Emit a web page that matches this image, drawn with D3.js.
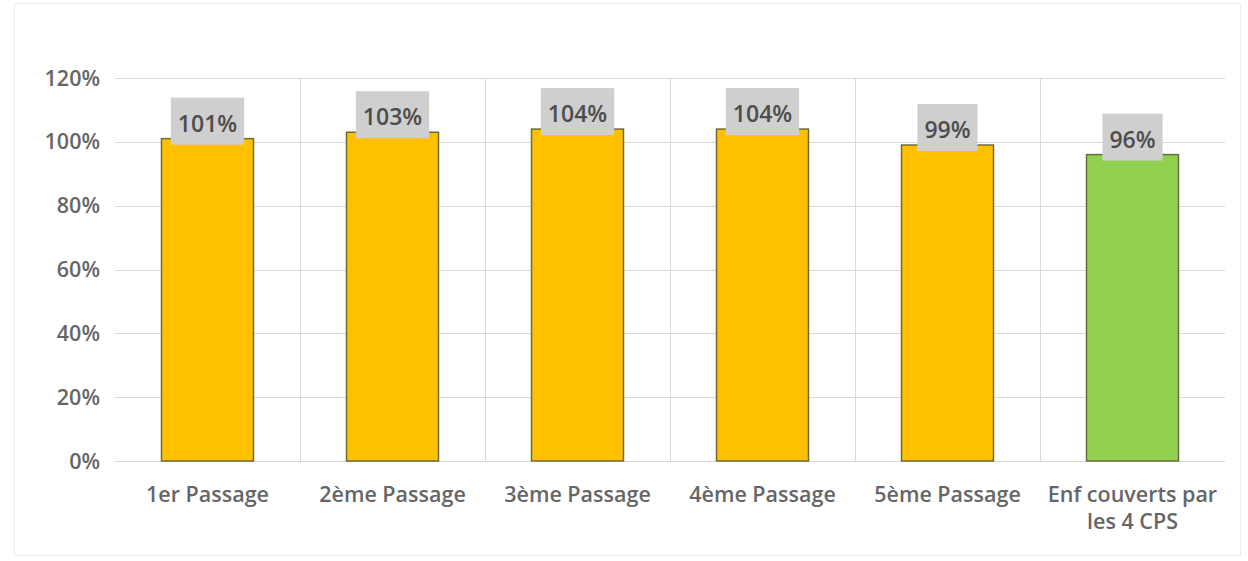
<!DOCTYPE html>
<meta charset="utf-8">
<style>
body { margin: 0; background: #fff; }
.grid line { stroke: #d9d9d9; stroke-width: 1px; }
.axis text { font: 600 21.5px "Open Sans", sans-serif; fill: #666; }
.lbl text { font: 600 23px "Open Sans", sans-serif; fill: #4d4d4d; }
</style>
<svg width="1248" height="561"></svg>
<script src="https://d3js.org/d3.v7.min.js"></script>
<script>
var categories = ["1er Passage", "2ème Passage", "3ème Passage", "4ème Passage", "5ème Passage", "Enf couverts par|les 4 CPS"];
var values = [1.01, 1.03, 1.04, 1.04, 0.99, 0.96];
var barColors = ["#FFC000", "#FFC000", "#FFC000", "#FFC000", "#FFC000", "#92D050"];
var yTicks = [0, 0.2, 0.4, 0.6, 0.8, 1.0, 1.2];

var svg = d3.select("svg");

// chart frame
svg.append("rect").attr("x", 14.5).attr("y", 3.5).attr("width", 1226).attr("height", 552)
    .attr("fill", "none").attr("stroke", "#ececec");

var x = d3.scaleBand().domain(categories).range([115, 1225]).paddingInner(0).paddingOuter(0);
var y = d3.scaleLinear().domain([0, 1.2]).range([461, 78]);
var barW = 92;

// horizontal gridlines
svg.append("g").attr("class", "grid").selectAll("line")
    .data(yTicks).enter().append("line")
    .attr("x1", 115).attr("x2", 1225)
    .attr("y1", function(d) { return Math.round(y(d)) + 0.5; })
    .attr("y2", function(d) { return Math.round(y(d)) + 0.5; });

// vertical gridlines between categories
svg.append("g").attr("class", "grid").selectAll("line")
    .data(categories.slice(1)).enter().append("line")
    .attr("x1", function(d) { return Math.round(x(d)) + 0.5; })
    .attr("x2", function(d) { return Math.round(x(d)) + 0.5; })
    .attr("y1", y(1.2)).attr("y2", y(0));

// y axis labels
svg.append("g").attr("class", "axis").selectAll("text")
    .data(yTicks).enter().append("text")
    .attr("x", 100).attr("y", function(d) { return y(d); })
    .attr("dy", "0.35em").attr("text-anchor", "end")
    .text(function(d) { return d3.format(".0%")(d); });

// bars
svg.append("g").selectAll("rect")
    .data(categories).enter().append("rect")
    .attr("x", function(d) { return x(d) + x.bandwidth() / 2 - barW / 2; })
    .attr("y", function(d, i) { return y(values[i]); })
    .attr("width", barW)
    .attr("height", function(d, i) { return y(0) - y(values[i]); })
    .attr("fill", function(d, i) { return barColors[i]; })
    .attr("stroke", "#6b6b3a").attr("stroke-width", 1.5);

// data labels with grey boxes
var lbl = svg.append("g").attr("class", "lbl").selectAll("g")
    .data(categories).enter().append("g")
    .attr("transform", function(d, i) {
        return "translate(" + (x(d) + x.bandwidth() / 2) + "," + (y(values[i]) - 15) + ")";
    });
lbl.append("text")
    .attr("text-anchor", "middle").attr("dy", "0.35em")
    .text(function(d, i) { return d3.format(".0%")(values[i]); });
lbl.each(function() {
    var g = d3.select(this), bb = g.select("text").node().getBBox();
    g.insert("rect", "text")
        .attr("x", bb.x - 7).attr("y", -26)
        .attr("width", bb.width + 14).attr("height", 47)
        .attr("fill", "#cfcfcf");
});

// x axis labels
var xl = svg.append("g").attr("class", "axis").selectAll("text")
    .data(categories).enter().append("text")
    .attr("text-anchor", "middle")
    .attr("x", function(d) { return x(d) + x.bandwidth() / 2; })
    .attr("y", 494);
xl.each(function(d) {
    var t = d3.select(this), parts = d.split("|");
    parts.forEach(function(p, k) {
        t.append("tspan").attr("x", t.attr("x")).attr("dy", k === 0 ? "0.35em" : "1.28em").text(p);
    });
});
</script>
